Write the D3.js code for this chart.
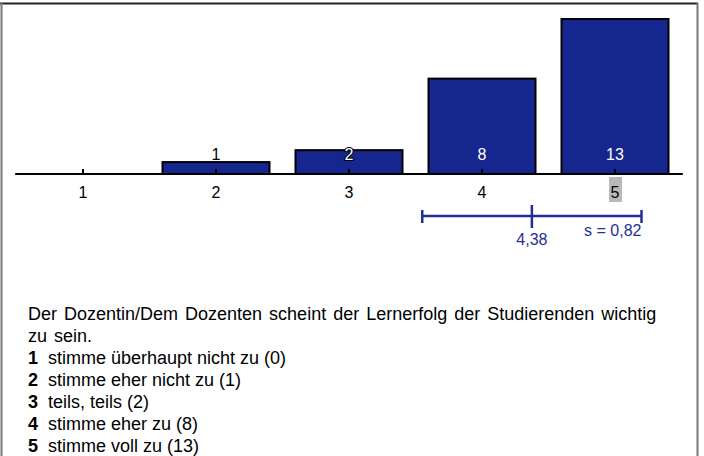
<!DOCTYPE html>
<html>
<head>
<meta charset="utf-8">
<script src="https://cdn.jsdelivr.net/npm/d3@7"></script>
<style>
  body { margin: 0; background: #fff; }
  svg { display: block; font-family: "Liberation Sans", Arial, sans-serif; }
</style>
</head>
<body>
<div id="chart"></div>
<script>
const categories = ["1", "2", "3", "4", "5"]
const counts = [0, 1, 2, 8, 13]
const answerLabels = [
  "stimme überhaupt nicht zu",
  "stimme eher nicht zu",
  "teils, teils",
  "stimme eher zu",
  "stimme voll zu"
]
const question = ["Der Dozentin/Dem Dozenten scheint der Lernerfolg der Studierenden wichtig", "zu sein."]

const width = 704, height = 456

// mean, sd and median from the answer counts
let n = d3.sum(counts)
let mean = d3.sum(counts, (c, i) => c * (i + 1)) / n
let sd = Math.sqrt(d3.sum(counts, (c, i) => c * Math.pow(i + 1 - mean, 2)) / (n - 1))
let cum = 0, median = 1
counts.forEach((c, i) => { if (cum < n / 2) { cum += c; median = i + 1 } })

const fmt = v => d3.format(".2f")(v).replace(".", ",")

let x = d3.scaleLinear().domain([1, 5]).range([83, 615])
let y = d3.scaleLinear().domain([0, 13]).range([174, 19])
const barW = 107
const navy = "#15268f"
const labelY = 160

let svg = d3.select("#chart").append("svg")
  .attr("width", width)
  .attr("height", height)

// frame
svg.append("line").attr("x1", 0).attr("x2", 698).attr("y1", 3.5).attr("y2", 3.5)
  .attr("stroke", "#222").attr("stroke-width", 2)
svg.append("line").attr("x1", 1.5).attr("x2", 1.5).attr("y1", 3).attr("y2", height)
  .attr("stroke", "#777").attr("stroke-width", 2)
svg.append("line").attr("x1", 697.5).attr("x2", 697.5).attr("y1", 3).attr("y2", height)
  .attr("stroke", "#777").attr("stroke-width", 2)

// bars
svg.selectAll(".bar")
  .data(counts)
  .enter()
  .append("rect")
  .attr("class", "bar")
  .attr("x", (d, i) => x(i + 1) - barW / 2)
  .attr("y", d => y(d))
  .attr("width", barW)
  .attr("height", d => y(0) - y(d))
  .attr("fill", navy)
  .attr("stroke", "#000")
  .attr("stroke-width", 2)

// baseline + ticks
svg.append("line")
  .attr("x1", x(0.49)).attr("x2", x(5.51))
  .attr("y1", y(0)).attr("y2", y(0))
  .attr("stroke", "#000").attr("stroke-width", 2)

svg.selectAll(".tick")
  .data(categories)
  .enter()
  .append("line")
  .attr("x1", (d, i) => x(i + 1)).attr("x2", (d, i) => x(i + 1))
  .attr("y1", y(0) - 5).attr("y2", y(0))
  .attr("stroke", "#000").attr("stroke-width", 2)

// median highlight
svg.append("rect")
  .attr("x", x(median) - 6).attr("y", 177)
  .attr("width", 13).attr("height", 25)
  .attr("fill", "#b9b9b9")

svg.selectAll(".cat")
  .data(categories)
  .enter()
  .append("text")
  .attr("x", (d, i) => x(i + 1))
  .attr("y", 198)
  .attr("text-anchor", "middle")
  .style("font-size", "16px")
  .text(d => d)

// value labels (white inside the bar, outlined where they cross the bar top)
svg.selectAll(".val")
  .data(counts.map((c, i) => ({ c, i })).filter(d => d.c > 0))
  .enter()
  .append("text")
  .attr("x", d => x(d.i + 1))
  .attr("y", labelY)
  .attr("text-anchor", "middle")
  .style("font-size", "16px")
  .attr("fill", d => y(d.c) < labelY - 6 ? "#fff" : "#000")
  .attr("stroke", d => (y(d.c) < labelY - 6 && y(d.c) > labelY - 16) ? "#000" : "none")
  .attr("stroke-width", 2)
  .style("paint-order", "stroke")
  .text(d => d.c)

// mean +- sd
const blue = "#1f2f96"
let sdG = svg.append("g").attr("stroke", blue).attr("stroke-width", 2.5)
sdG.append("line").attr("x1", x(mean - sd)).attr("x2", x(mean + sd)).attr("y1", 216).attr("y2", 216)
sdG.append("line").attr("x1", x(mean - sd)).attr("x2", x(mean - sd)).attr("y1", 210).attr("y2", 223)
sdG.append("line").attr("x1", x(mean + sd)).attr("x2", x(mean + sd)).attr("y1", 210).attr("y2", 223)
sdG.append("line").attr("x1", x(mean)).attr("x2", x(mean)).attr("y1", 205).attr("y2", 228)

svg.append("text")
  .attr("x", x(mean)).attr("y", 245)
  .attr("text-anchor", "middle")
  .attr("fill", blue)
  .style("font-size", "16px")
  .text(fmt(mean))

svg.append("text")
  .attr("x", x(mean + sd)).attr("y", 236)
  .attr("text-anchor", "end")
  .attr("fill", blue)
  .style("font-size", "16px")
  .text("s = " + fmt(sd))

// question text + legend
svg.selectAll(".q")
  .data(question)
  .enter()
  .append("text")
  .attr("x", 28)
  .attr("y", (d, i) => 320 + i * 22)
  .style("font-size", "18px")
  .style("word-spacing", "2px")
  .text(d => d)

let items = svg.selectAll(".item")
  .data(categories)
  .enter()
  .append("text")
  .attr("x", 28)
  .attr("y", (d, i) => 364 + i * 22)
  .style("font-size", "18px")

items.append("tspan").style("font-weight", "bold").text(d => d)
items.append("tspan").attr("x", 48).text((d, i) => answerLabels[i] + " (" + counts[i] + ")")
</script>
</body>
</html>
